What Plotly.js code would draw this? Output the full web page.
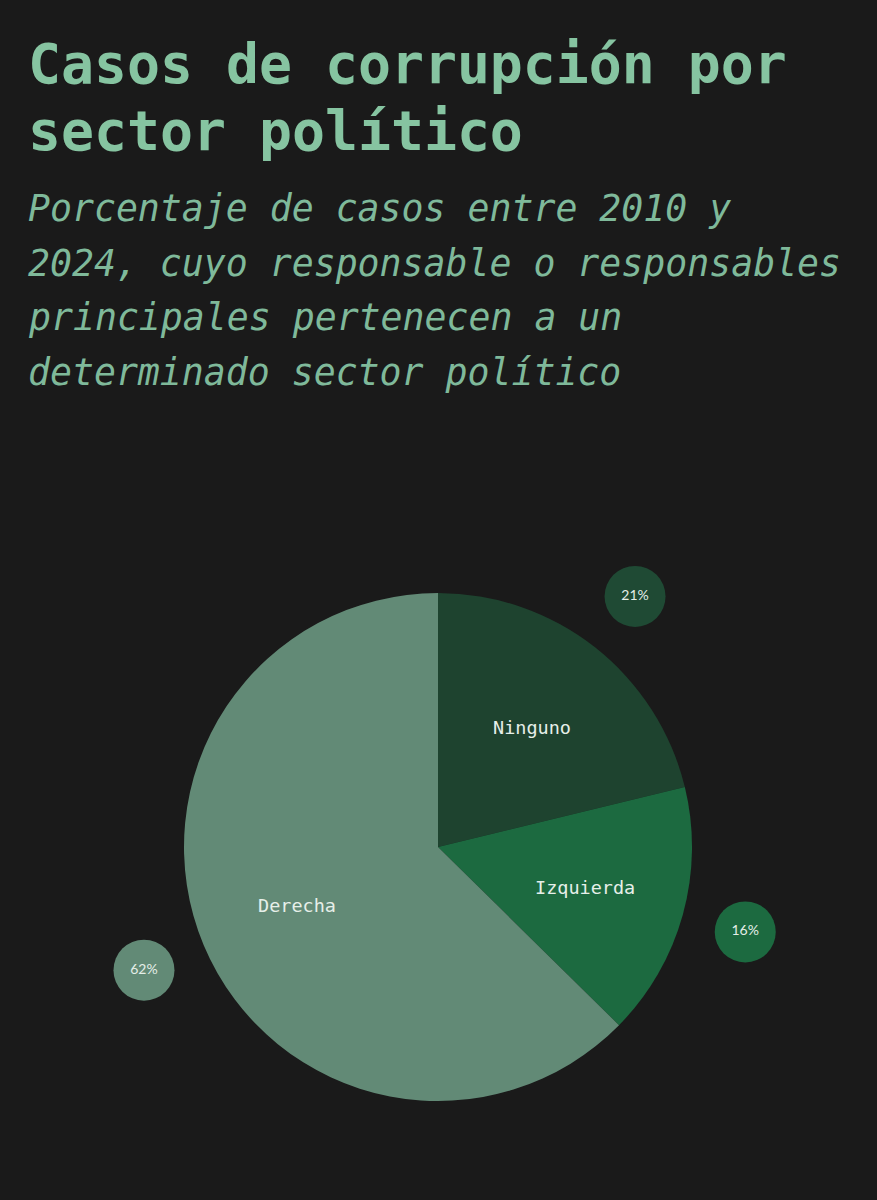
<!DOCTYPE html>
<html>
<head>
<meta charset="utf-8">
<script src="https://cdn.plot.ly/plotly-3.0.1.min.js"></script>
<style>
  html, body { margin: 0; padding: 0; background: #1a1a1a; }
  #chart { width: 877px; height: 1200px; }
</style>
</head>
<body>
<div id="chart"></div>
<script>
// ---- data ----
const categories = ['Ninguno', 'Izquierda', 'Derecha'];
const values = [21, 16, 62];
const pctLabels = ['21%', '16%', '62%'];
const titleLines = ['Casos de corrupción por', 'sector político'];
const subtitleLines = [
  'Porcentaje de casos entre 2010 y',
  '2024, cuyo responsable o responsables',
  'principales pertenecen a un',
  'determinado sector político'
];

// ---- style ----
const W = 877, H = 1200;
const sliceColors = ['#1e432f', '#1c6a40', '#628a76'];
const bubbleColors = ['#1f4a34', '#1c6a40', '#628a76'];
const bg = '#1a1a1a';
const titleColor = '#86c4a1';
const subColor = '#7fb99a';

// pie geometry in pixels
const pieLeft = 184, pieRight = 692, pieTop = 593, pieBottom = 1101;
const cx = (pieLeft + pieRight) / 2, cy = (pieTop + pieBottom) / 2;
const r = (pieRight - pieLeft) / 2;

const total = values.reduce((a, b) => a + b, 0);
let cum = 0;
const midAngles = values.map(v => { const m = (cum + v / 2) / total * 2 * Math.PI; cum += v; return m; });
const polar = (f, a) => [cx + f * r * Math.sin(a), cy - f * r * Math.cos(a)];
const bubblePos = midAngles.map(a => polar(1.255, a));
const labelPos = midAngles.map(a => polar(0.6, a));

const pie = {
  type: 'pie',
  labels: categories,
  values: values,
  sort: false,
  direction: 'clockwise',
  rotation: 0,
  textinfo: 'none',
  hoverinfo: 'label+percent',
  marker: { colors: sliceColors, line: { width: 0 } },
  domain: { x: [pieLeft / W, pieRight / W], y: [1 - pieBottom / H, 1 - pieTop / H] },
  showlegend: false
};

const bubbles = {
  type: 'scatter',
  mode: 'markers+text',
  x: bubblePos.map(p => p[0]),
  y: bubblePos.map(p => p[1]),
  text: pctLabels,
  textposition: 'middle center',
  textfont: { family: 'Lato, sans-serif', size: 14, color: '#e4eee7' },
  marker: { size: 61, color: bubbleColors, line: { width: 0 } },
  hoverinfo: 'skip',
  showlegend: false
};

const annotations = [];
const titleCenters = [64, 131];
titleLines.forEach((t, i) => annotations.push({
  text: '<b>' + t + '</b>', xref: 'paper', yref: 'paper',
  x: 26 / W, y: 1 - titleCenters[i] / H, xanchor: 'left', yanchor: 'middle',
  showarrow: false, font: { family: 'DejaVu Sans Mono, monospace', size: 54.8, color: titleColor }
}));
const subCenters = [208, 263, 317, 372];
subtitleLines.forEach((t, i) => annotations.push({
  text: '<i>' + t + '</i>', xref: 'paper', yref: 'paper',
  x: 26 / W, y: 1 - subCenters[i] / H, xanchor: 'left', yanchor: 'middle',
  showarrow: false, font: { family: 'DejaVu Sans Mono, monospace', size: 36.5, color: subColor }
}));
categories.forEach((c, i) => annotations.push({
  text: c, xref: 'x', yref: 'y', x: labelPos[i][0], y: labelPos[i][1],
  xanchor: 'center', yanchor: 'middle', showarrow: false,
  font: { family: 'DejaVu Sans Mono, monospace', size: 18.5, color: '#e6efe9' }
}));

const layout = {
  width: W, height: H,
  margin: { l: 0, r: 0, t: 0, b: 0 },
  paper_bgcolor: bg, plot_bgcolor: bg,
  xaxis: { range: [0, W], visible: false, fixedrange: true, domain: [0, 1] },
  yaxis: { range: [H, 0], visible: false, fixedrange: true, domain: [0, 1] },
  annotations: annotations,
  showlegend: false
};

Plotly.newPlot('chart', [bubbles, pie], layout, { displayModeBar: false, staticPlot: true });
</script>
</body>
</html>
